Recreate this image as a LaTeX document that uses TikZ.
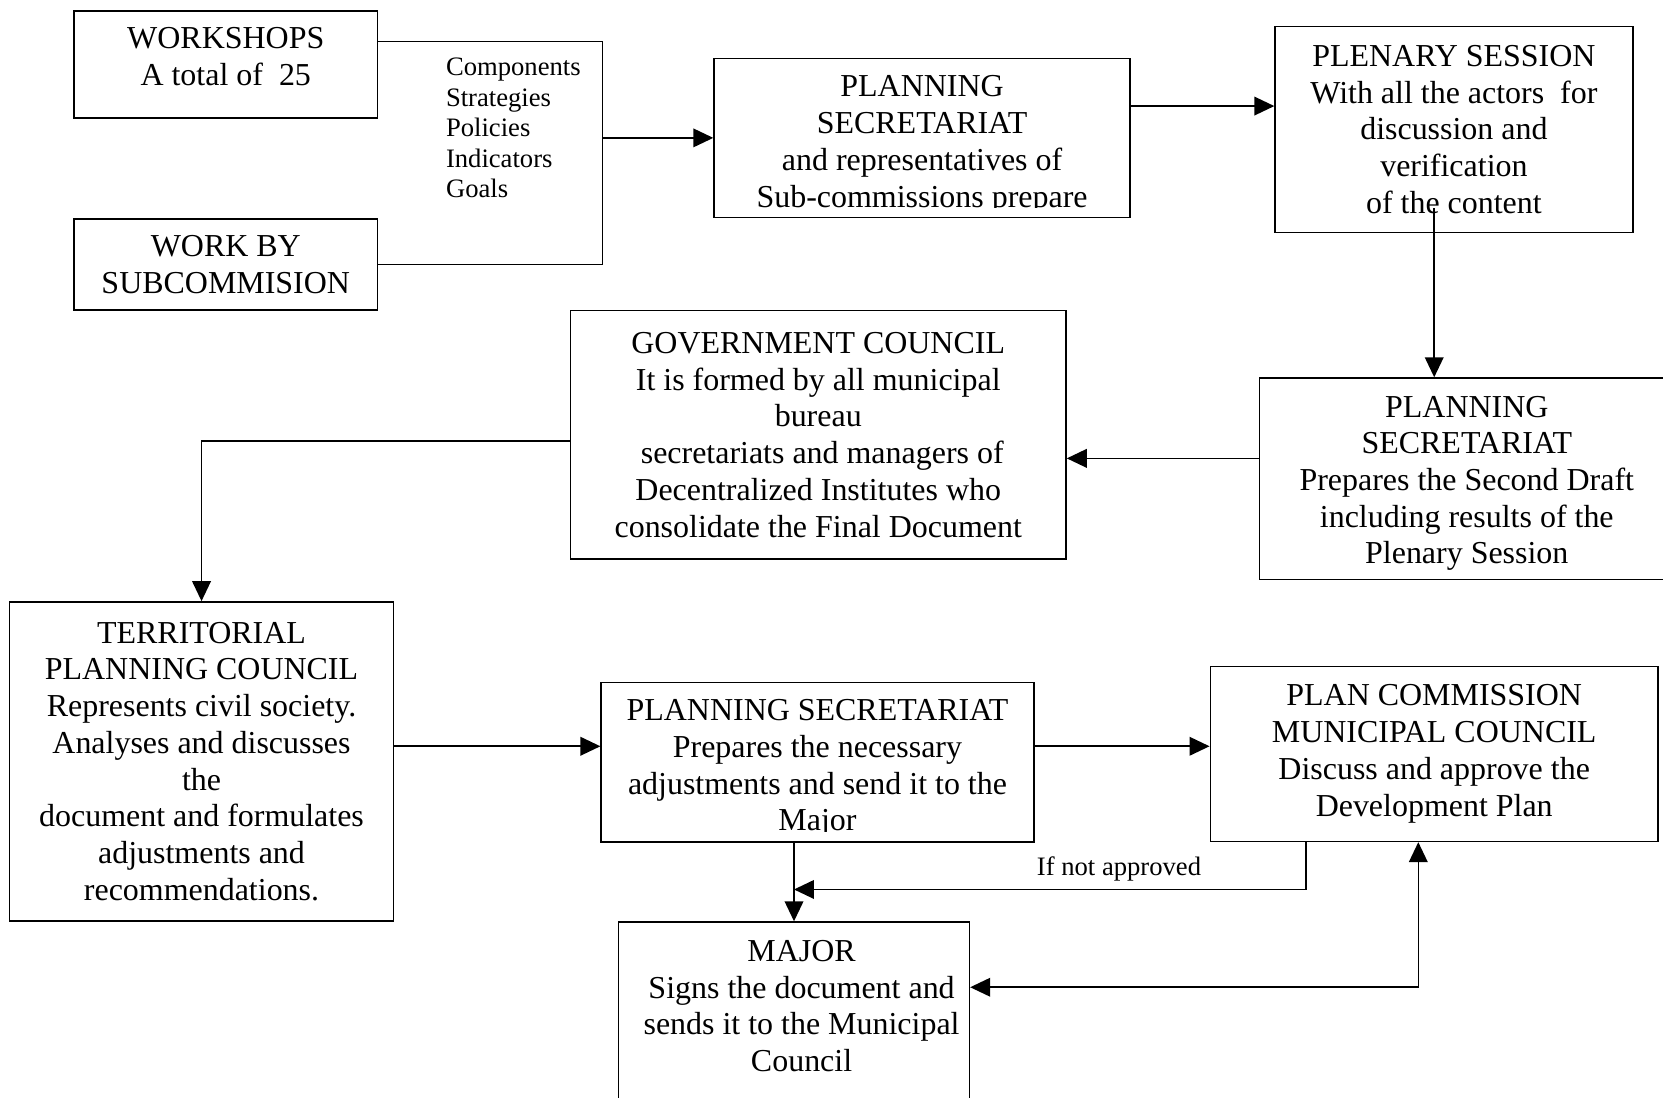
\documentclass[tikz,border=0pt]{standalone}
\usepackage{fontspec}
\setmainfont{Liberation Serif}
\usetikzlibrary{arrows.meta}

\tikzset{
    box/.style={draw, line width=0.6pt, inner sep=0pt, align=center, font=\fontsize{12pt}{13.8pt}\selectfont},
    txt/.style={inner sep=0pt, align=center, font=\fontsize{12pt}{13.8pt}\selectfont},
    note/.style={inner sep=0pt, font=\fontsize{10pt}{11.5pt}\selectfont},
    conn/.style={line width=0.6pt},
    arr/.style={line width=0.6pt, -{Triangle[length=7.5pt,width=7pt]}},
    arrboth/.style={line width=0.6pt, {Triangle[length=7.5pt,width=7pt]}-{Triangle[length=7.5pt,width=7pt]}}
}

\begin{document}
\begin{tikzpicture}
        \clip (0,0) rectangle (21.95,14.48);

        \node[box, minimum width=4.0cm, minimum height=1.41cm] (ws) at (2.98, 13.63) {};
        \node[txt] (ws-t) at (2.98, 13.73) {WORKSHOPS\\A total of\ \ 25};
        \node[box, minimum width=4.0cm, minimum height=1.2cm] (wb) at (2.98, 10.99) {WORK BY\\SUBCOMMISION};
        \node[note, align=left, anchor=west] (items) at (5.88, 12.79) {Components\\Strategies\\Policies\\Indicators\\Goals};

        \node[box, minimum width=5.49cm, minimum height=2.1cm] (ps1) at (12.17, 12.66) {};
        \begin{scope}
            \clip ([yshift=0.14cm]ps1.south west) rectangle (ps1.north east);
            \node[txt] (ps1-t) at (12.17, 12.57) {PLANNING\\SECRETARIAT\\and representatives of\\Sub-commissions prepare};
        \end{scope}
        \node[box, minimum width=4.72cm, minimum height=2.72cm] (ple) at (19.19, 12.77) {PLENARY SESSION\\With all the actors\ \ for\\discussion and\\verification\\of the content};
        \node[box, minimum width=5.47cm, minimum height=2.66cm] (ps2) at (19.36, 8.16) {};
        \node[txt] (ps2-t) at (19.36, 8.1) {PLANNING\\SECRETARIAT\\Prepares the Second Draft\\including results of the\\Plenary Session};
        \node[box, minimum width=6.54cm, minimum height=3.28cm] (gov) at (10.8, 8.74) {GOVERNMENT COUNCIL\\It is formed by all municipal\\bureau\\\ secretariats and managers of\\Decentralized Institutes who\\consolidate the Final Document};
        \node[box, minimum width=5.07cm, minimum height=4.21cm] (terr) at (2.66, 4.43) {TERRITORIAL\\PLANNING COUNCIL\\Represents civil society.\\Analyses and discusses\\the\\document and formulates\\adjustments and\\recommendations.};
        \node[box, minimum width=5.71cm, minimum height=2.1cm] (ps3) at (10.79, 4.42) {};
        \begin{scope}
            \clip ([yshift=0.14cm]ps3.south west) rectangle (ps3.north east);
            \node[txt] (ps3-t) at (10.79, 4.336) {PLANNING SECRETARIAT\\Prepares the necessary\\adjustments and send it to the\\Major};
        \end{scope}
        \node[box, minimum width=5.91cm, minimum height=2.31cm] (pcm) at (18.93, 4.53) {PLAN COMMISSION\\MUNICIPAL COUNCIL\\Discuss and approve the\\Development Plan};
        \node[box, minimum width=4.63cm, minimum height=2.8cm, anchor=north] (major) at (10.48, 2.32) {};
        \node[txt] (major-t) at (10.58, 1.2) {MAJOR\\Signs the document and\\sends it to the Municipal\\Council};

        \coordinate (merge) at (7.95, 12.66);
        \draw[conn] ([yshift=0.3cm]ws.east) -| (merge) |- (wb.east);
        \draw[arr] (merge) -- (ps1.west);
        \draw[arr] ([yshift=0.42cm]ps1.east) -- ([yshift=0.42cm]ps1.east -| ple.west);
        \coordinate (down) at (18.93, 11.73);
        \draw[arr] (down) -- (down |- ps2.north);
        \draw[arr] ([yshift=0.27cm]ps2.west) -- ([yshift=0.27cm]ps2.west -| gov.east);
        \draw[arr] ([yshift=-0.08cm]gov.west) -| (terr.north);
        \draw[arr] ([yshift=0.2cm]terr.east) -- ([yshift=0.2cm]terr.east -| ps3.west);
        \draw[arr] ([yshift=0.21cm]ps3.east) -- ([yshift=0.21cm]ps3.east -| pcm.west);
        \draw[arr] (major.north |- ps3.south) -- (major.north);
        \coordinate (back) at (10.48, 2.74);
        \draw[arr] ([xshift=-1.69cm]pcm.south) |- (back);
        \node[note] (cond) at (14.77, 3.01) {If not approved};
        \draw[arrboth] ([yshift=0.54cm]major.east) -| ([xshift=-0.21cm]pcm.south);
    \end{tikzpicture}
\end{document}
